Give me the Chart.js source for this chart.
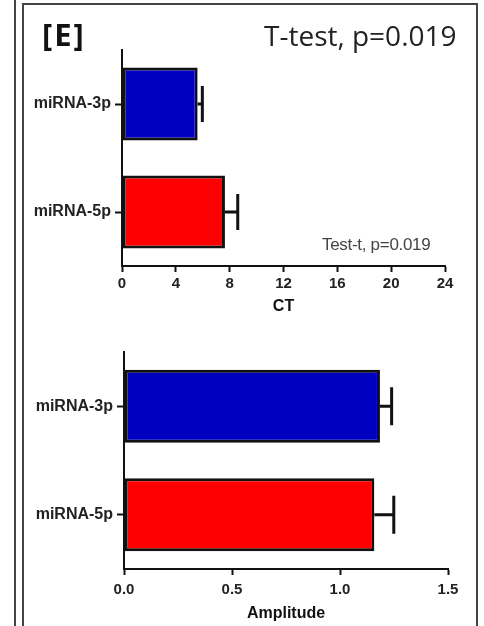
<!DOCTYPE html>
<html>
<head>
<meta charset="utf-8">
<script src="https://cdn.jsdelivr.net/npm/chart.js@4.4.1/dist/chart.umd.min.js"></script>
<style>
  html, body { margin: 0; padding: 0; background: #fff; }
  body { width: 484px; height: 626px; position: relative; overflow: hidden; }
  .frame-outer { position: absolute; left: 14px; top: 0; width: 0; height: 626px; border-left: 2px solid #444; }
  .frame-inner { position: absolute; left: 22px; top: 3px; width: 452px; height: 640px;
                 border: 2px solid #444; border-bottom: none; }
  .chart-box { position: absolute; left: 0; width: 484px; }
  #panelLabel { position: absolute; left: 42px; top: 13px; font: bold 31px "Open Sans", sans-serif;
                letter-spacing: 2px; color: #111; }
  #testTop { position: absolute; left: 264px; top: 16px; font: 28px "Open Sans", sans-serif; color: #222; }
  #testSmall { position: absolute; left: 322px; top: 235px; font: 17px "Liberation Sans", Arial, sans-serif;
               color: #444; letter-spacing: -0.3px; }
</style>
</head>
<body>
<div class="frame-outer"></div>
<div class="frame-inner"></div>
<div class="chart-box" style="top:0;height:320px"><canvas id="ctChart" width="484" height="320"></canvas></div>
<div class="chart-box" style="top:320px;height:306px"><canvas id="ampChart" width="484" height="306"></canvas></div>
<div id="panelLabel">[E]</div>
<div id="testTop">T-test, p=0.019</div>
<div id="testSmall">Test-t, p=0.019</div>
<script>
// categories and values
const categories = ['miRNA-3p', 'miRNA-5p'];
const barColors = ['#0000c0', '#ff0000'];

const ctMeans = [5.62, 7.65];
const ctErrors = [0.35, 0.95];

const ampMeans = [1.185, 1.159];
const ampErrors = [0.054, 0.09];

const ctTicks = { min: 0, max: 24, step: 4 };
const ampTicks = { min: 0, max: 1.5, step: 0.5 };

const FONT = '"Liberation Sans", Arial, sans-serif';

// draws one-sided (upper) error bars at the end of each bar
const errorBarPlugin = {
  id: 'errorBars',
  afterDatasetsDraw(chart, args, opts) {
    const ctx = chart.ctx;
    const xScale = chart.scales.x;
    chart.data.datasets.forEach((ds, di) => {
      const meta = chart.getDatasetMeta(di);
      meta.data.forEach((bar, i) => {
        const v = ds.data[i];
        const e = ds.errors[i];
        const x0 = xScale.getPixelForValue(v);
        const x1 = xScale.getPixelForValue(v + e);
        const y = bar.y;
        ctx.save();
        ctx.strokeStyle = '#111';
        ctx.lineWidth = 3;
        ctx.beginPath();
        ctx.moveTo(x0, y);
        ctx.lineTo(x1, y);
        ctx.moveTo(x1, y - opts.cap);
        ctx.lineTo(x1, y + opts.cap);
        ctx.stroke();
        ctx.restore();
      });
    });
  }
};

function makeChart(id, means, errors, ticks, title, fmt, layout) {
  const ctx = document.getElementById(id).getContext('2d');
  return new Chart(ctx, {
    type: 'bar',
    data: {
      labels: categories,
      datasets: [{
        data: means,
        errors: errors,
        backgroundColor: barColors,
        borderColor: '#111',
        borderWidth: 3,
        borderSkipped: false,
        barPercentage: layout.barPct,
        categoryPercentage: 1
      }]
    },
    options: {
      indexAxis: 'y',
      responsive: false,
      animation: false,
      events: [],
      layout: { padding: layout.padding },
      plugins: {
        legend: { display: false },
        tooltip: { enabled: false },
        errorBars: { cap: layout.cap }
      },
      scales: {
        x: {
          min: ticks.min,
          max: ticks.max,
          afterFit(scale) { scale.height = layout.xHeight; },
          ticks: {
            stepSize: ticks.step,
            color: '#222',
            padding: layout.tickPad,
            font: { family: FONT, size: 15, weight: 'bold' },
            callback: v => fmt(v)
          },
          grid: { drawOnChartArea: false, drawTicks: true, tickLength: 6, tickColor: '#111', tickWidth: 2 },
          border: { display: true, color: '#111', width: 2 },
          title: {
            display: true,
            text: title,
            color: '#111',
            font: { family: FONT, size: 16, weight: 'bold' },
            padding: { top: 2, bottom: layout.titlePad }
          }
        },
        y: {
          afterFit(scale) { scale.width = layout.yWidth; },
          ticks: {
            color: '#222',
            padding: 4,
            font: { family: FONT, size: 16, weight: 'bold' }
          },
          grid: { offset: false, drawOnChartArea: false, drawTicks: true, tickLength: 7, tickColor: '#111', tickWidth: 2 },
          border: { display: true, color: '#111', width: 2 }
        }
      }
    },
    plugins: [errorBarPlugin]
  });
}

makeChart('ctChart', ctMeans, ctErrors, ctTicks, 'CT', v => String(v), {
  padding: { left: 22, right: 39, top: 50, bottom: 0 },
  yWidth: 100, xHeight: 54, barPct: 0.676, cap: 18, titlePad: 4, tickPad: 3
});

makeChart('ampChart', ampMeans, ampErrors, ampTicks, 'Amplitude', v => Number(v).toFixed(1), {
  padding: { left: 24, right: 36, top: 32, bottom: 0 },
  yWidth: 100, xHeight: 57, barPct: 0.673, cap: 19, titlePad: 3, tickPad: 6
});
</script>
</body>
</html>
